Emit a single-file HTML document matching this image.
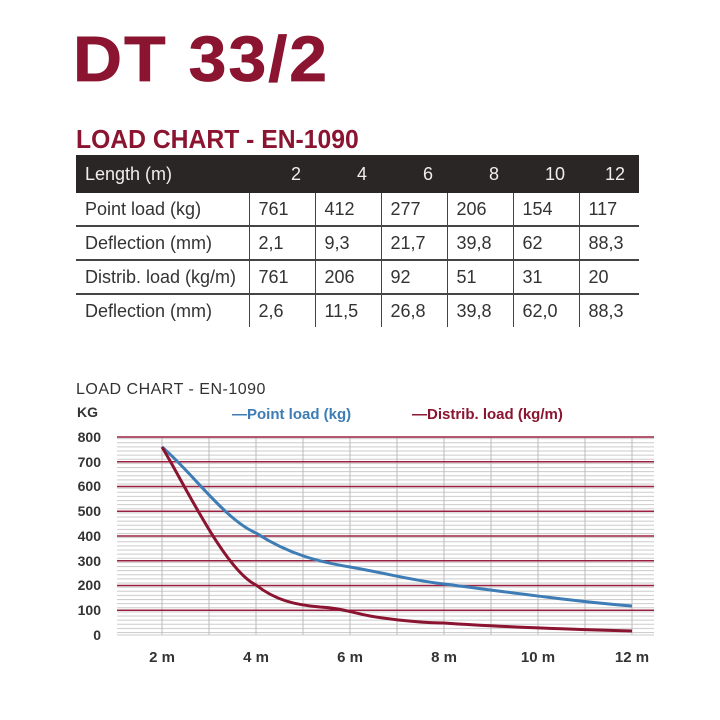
<!DOCTYPE html>
<html><head><meta charset="utf-8"><style>
body{margin:0;width:720px;height:720px;background:#fff;position:relative;overflow:hidden;font-family:"Liberation Sans",sans-serif}
.t{position:absolute;white-space:nowrap}
table{position:absolute;left:76px;top:155px;border-collapse:collapse;font-size:18px;color:#333}
td{padding:0 0 0 9px;height:32px;border-bottom:2px solid #444;border-left:1px solid #444;text-align:left}
td:first-child{border-left:none}
tr.h td{background:#2b2626;color:#eee;height:38px;border:none;text-align:right;padding-right:14px}
tr.h td:first-child{text-align:left}
tr.l td{border-bottom:none}
</style></head><body>
<div class="t" style="left:73px;top:22px;font-size:64px;font-weight:900;color:#8b1430;-webkit-text-stroke:0.8px #8b1430;letter-spacing:2px;transform:scaleX(1.06);transform-origin:left">DT 33/2</div>
<div class="t" style="left:76px;top:124px;font-size:26px;font-weight:bold;color:#8b1430;transform:scaleX(0.95);transform-origin:left">LOAD CHART - EN-1090</div>
<table>
<colgroup><col style="width:173px"><col style="width:66px"><col style="width:66px"><col style="width:66px"><col style="width:66px"><col style="width:66px"><col style="width:60px"></colgroup>
<tr class="h"><td>Length (m)</td><td>2</td><td>4</td><td>6</td><td>8</td><td>10</td><td>12</td></tr>
<tr><td>Point load (kg)</td><td>761</td><td>412</td><td>277</td><td>206</td><td>154</td><td>117</td></tr>
<tr><td>Deflection (mm)</td><td>2,1</td><td>9,3</td><td>21,7</td><td>39,8</td><td>62</td><td>88,3</td></tr>
<tr><td>Distrib. load (kg/m)</td><td>761</td><td>206</td><td>92</td><td>51</td><td>31</td><td>20</td></tr>
<tr class="l"><td>Deflection (mm)</td><td>2,6</td><td>11,5</td><td>26,8</td><td>39,8</td><td>62,0</td><td>88,3</td></tr>
</table>
<div class="t" style="left:76px;top:381px;font-size:16px;color:#333;letter-spacing:0.5px">LOAD CHART - EN-1090</div>
<svg width="720" height="720" style="position:absolute;left:0;top:0">
<defs>
<pattern id="hm" patternUnits="userSpaceOnUse" x="0" y="0.875" width="720" height="4.125"><line x1="0" x2="720" y1="0.5" y2="0.5" stroke="#ccc" stroke-width="1"/></pattern>
<pattern id="vm" patternUnits="userSpaceOnUse" x="114.5" y="0" width="47" height="720"><line x1="0.5" x2="0.5" y1="0" y2="720" stroke="#bbb" stroke-width="1"/></pattern>
</defs>
<rect x="117" y="437" width="537" height="198" fill="url(#hm)"/>
<rect x="160" y="437" width="480" height="198" fill="url(#vm)"/>
<g stroke="#9b2040" stroke-width="1.5">
<line x1="117" x2="654" y1="437" y2="437"/><line x1="117" x2="654" y1="461.75" y2="461.75"/><line x1="117" x2="654" y1="486.5" y2="486.5"/><line x1="117" x2="654" y1="511.25" y2="511.25"/><line x1="117" x2="654" y1="536" y2="536"/><line x1="117" x2="654" y1="560.75" y2="560.75"/><line x1="117" x2="654" y1="585.5" y2="585.5"/><line x1="117" x2="654" y1="610.25" y2="610.25"/>
</g>
<line x1="117" x2="654" y1="635" y2="635" stroke="#ccc"/>
<path d="M162,447 C190,470 225,520 256,533 C290,555 320,562 350,567 C390,574 410,580 444,584 C500,591 570,601 632,606" fill="none" stroke="#3d7cb5" stroke-width="3"/>
<path d="M162,447 C185,485 225,570 256,585 C275,600 295,605 320,607 C340,608 350,612 370,616 C400,621 430,623 444,623 C500,627 560,629 632,631" fill="none" stroke="#8b1430" stroke-width="3"/>
<g font-family="Liberation Sans" font-weight="bold" font-size="14" fill="#333" text-anchor="end">
<text x="101" y="442">800</text><text x="101" y="467">700</text><text x="101" y="491">600</text><text x="101" y="516">500</text><text x="101" y="541">400</text><text x="101" y="566">300</text><text x="101" y="590">200</text><text x="101" y="615">100</text><text x="101" y="640">0</text>
<text x="98" y="417">KG</text>
</g>
<g font-family="Liberation Sans" font-weight="bold" font-size="15" fill="#333" text-anchor="middle">
<text x="162" y="662">2 m</text><text x="256" y="662">4 m</text><text x="350" y="662">6 m</text><text x="444" y="662">8 m</text><text x="538" y="662">10 m</text><text x="632" y="662">12 m</text>
</g>
<text x="232" y="419" font-family="Liberation Sans" font-weight="bold" font-size="15" fill="#3d7cb5">—Point load (kg)</text>
<text x="412" y="419" font-family="Liberation Sans" font-weight="bold" font-size="15" fill="#8b1430">—Distrib. load (kg/m)</text>
</svg>
</body></html>
